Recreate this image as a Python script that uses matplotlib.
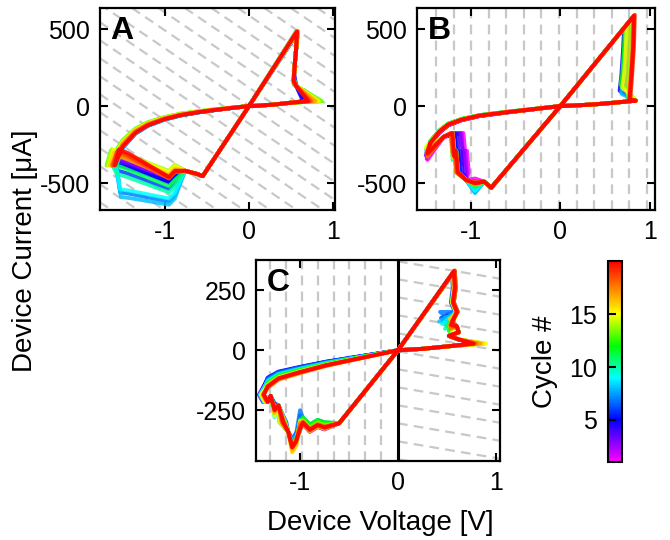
import numpy as np
import matplotlib
matplotlib.use('Agg')
import matplotlib.pyplot as plt
from matplotlib.colors import LinearSegmentedColormap, Normalize
from matplotlib.cm import ScalarMappable

plt.rcParams['font.family'] = ['Liberation Sans', 'DejaVu Sans']
plt.rcParams['font.size'] = 18
plt.rcParams['axes.unicode_minus'] = False
plt.rcParams['lines.scale_dashes'] = False

cycles = list(range(1, 21))

# ---- panel A, per-cycle features (V in volts, I in uA)
a_peak_V = [0.57, 0.56, 0.57, 0.58, 0.57, 0.56, 0.57, 0.58, 0.57, 0.56, 0.57, 0.58, 0.57, 0.56, 0.57, 0.58, 0.57, 0.56, 0.57, 0.57]
a_peak_I = [470, 475, 480, 478, 482, 485, 480, 476, 478, 482, 485, 488, 486, 484, 480, 482, 485, 480, 482, 484]
a_knee_I = [200, 180, 160, 230, 170, 150, 190, 140, 160, 170, 150, 180, 170, 160, 150, 170, 160, 150, 170, 160]
a_right_V = [0.70, 0.70, 0.68, 0.66, 0.64, 0.70, 0.72, 0.74, 0.76, 0.80, 0.84, 0.86, 0.86, 0.85, 0.82, 0.80, 0.78, 0.74, 0.72, 0.70]
a_low = [0.95, 0.95, 0.97, 0.98, 1.0, 1.02, 1.03, 1.02, 1.0, 0.95, 0.9, 0.85, 0.84, 0.86, 0.88, 0.9, 0.93, 0.96, 0.98, 1.0]
a_vmin = [-1.60, -1.62, -1.61, -1.63, -1.62, -1.60, -1.58, -1.57, -1.58, -1.62, -1.65, -1.68, -1.69, -1.68, -1.66, -1.65, -1.63, -1.62, -1.61, -1.59]
a_step = [-330, -340, -350, -360, -380, -420, -560, -590, -540, -440, -380, -300, -290, -280, -285, -300, -320, -300, -290, -280]
a_shelf = [-470, -480, -490, -500, -490, -540, -620, -640, -600, -560, -520, -450, -430, -420, -430, -445, -455, -470, -465, -460]
# shared low-current branch of A
a_branch_V = [-0.2, -0.4, -0.6, -0.8, -1.0, -1.2, -1.35, -1.5]
a_branch_I = [-12, -25, -40, -58, -85, -125, -175, -265]

# ---- panel B
b_peak_V = [0.80, 0.81, 0.79, 0.76, 0.71, 0.80, 0.82, 0.73, 0.81, 0.80, 0.82, 0.72, 0.81, 0.78, 0.74, 0.82, 0.81, 0.82, 0.83, 0.82]
b_peak_I = [572, 579, 565, 543, 508, 572, 586, 522, 579, 572, 586, 515, 579, 558, 530, 586, 579, 586, 593, 586]
b_foot_I = [60, 50, 70, 90, 100, 55, 45, 80, 60, 50, 45, 140, 60, 110, 120, 45, 50, 45, 40, 40]
b_low = [1.05, 1.04, 1.03, 1.02, 1.0, 1.0, 0.98, 0.97, 0.96, 0.95, 0.95, 0.96, 0.97, 0.98, 0.99, 1.0, 1.01, 1.02, 1.0, 1.0]
b_vmin = [-1.48, -1.49, -1.50, -1.49, -1.48, -1.47, -1.48, -1.49, -1.50, -1.49, -1.48, -1.47, -1.48, -1.49, -1.50, -1.49, -1.48, -1.48, -1.49, -1.48]
b_left_I = [-350, -340, -320, -300, -290, -300, -310, -300, -280, -290, -300, -310, -290, -280, -270, -300, -320, -330, -300, -310]
b_drop_V = [-1.08, -1.10, -1.12, -1.15, -1.18, -1.19, -1.20, -1.21, -1.20, -1.22, -1.21, -1.20, -1.22, -1.21, -1.20, -1.22, -1.21, -1.22, -1.21, -1.20]
b_mid_I = [-300, -380, -260, -340, -300, -360, -290, -330, -310, -350, -280, -320, -300, -340, -290, -330, -310, -300, -320, -330]
b_valley = [-470, -490, -500, -520, -540, -550, -560, -565, -550, -530, -520, -510, -505, -500, -505, -510, -500, -495, -505, -500]
b_branch_V = [-0.3, -0.6, -0.9, -1.1, -1.25, -1.35, -1.45]
b_branch_I = [-20, -40, -62, -88, -120, -167, -240]

# ---- panel C
c_peak_V = [0.56, 0.57, 0.58, 0.57, 0.56, 0.55, 0.56, 0.57, 0.58, 0.57, 0.56, 0.57, 0.58, 0.57, 0.56, 0.57, 0.58, 0.57, 0.58, 0.57]
c_peak_I = [320, 325, 330, 326, 322, 318, 322, 326, 330, 326, 322, 326, 330, 326, 322, 326, 330, 326, 333, 330]
c_jag_V = [0.52, 0.50, 0.48, 0.47, 0.46, 0.44, 0.43, 0.42, 0.45, 0.48, 0.50, 0.52, 0.53, 0.54, 0.55, 0.53, 0.52, 0.54, 0.55, 0.54]
c_jag_I = [130, 150, 110, 140, 120, 135, 160, 120, 110, 90, 100, 80, 95, 110, 85, 130, 100, 90, 120, 105]
c_right_V = [0.80, 0.82, 0.83, 0.81, 0.80, 0.82, 0.84, 0.85, 0.86, 0.84, 0.86, 0.87, 0.88, 0.89, 0.90, 0.86, 0.84, 0.80, 0.78, 0.77]
c_low = [0.85, 0.82, 0.8, 0.78, 0.76, 0.78, 0.8, 0.84, 0.86, 0.88, 0.9, 0.92, 0.94, 0.96, 0.98, 1.02, 1.05, 1.03, 1.0, 1.0]
c_vmin = [-1.40, -1.41, -1.42, -1.41, -1.40, -1.39, -1.38, -1.40, -1.41, -1.39, -1.38, -1.37, -1.38, -1.39, -1.40, -1.38, -1.37, -1.38, -1.37, -1.37]
c_knee = [-240, -260, -230, -250, -270, -220, -245, -260, -280, -235, -250, -265, -240, -255, -275, -245, -260, -250, -240, -250]
c_dip_V = [-1.19, -1.15, -1.20, -1.16, -1.18, -1.14, -1.21, -1.17, -1.15, -1.19, -1.16, -1.20, -1.18, -1.15, -1.21, -1.17, -1.19, -1.16, -1.18, -1.17]
c_bottom = [-380, -390, -395, -385, -380, -370, -375, -380, -400, -410, -415, -405, -395, -400, -420, -425, -410, -400, -405, -404]
c_rise = [-300, -330, -270, -310, -290, -320, -250, -340, -300, -310, -290, -325, -305, -315, -295, -330, -300, -310, -320, -330]
c_shelf = [-315, -320, -318, -312, -305, -295, -290, -300, -305, -300, -295, -290, -300, -305, -310, -318, -315, -312, -308, -312]
c_branch_V = [-0.39, -0.73, -1.01, -1.22, -1.33]
c_branch_I = [-33, -62, -92, -117, -150]

cmap = LinearSegmentedColormap.from_list(
    'cyc', [(0.0, '#ff00ff'), (0.21, '#0000ff'), (0.42, '#00ffff'),
            (0.58, '#00ff00'), (0.74, '#ffff00'), (1.0, '#ff0000')])
norm = Normalize(1, 20)


def loop_a(k):
    V = [0, a_peak_V[k], 0.56, 0.54, 0.53, 0.56, a_right_V[k], 0.5, 0.3, 0.1, 0]
    I = [0, a_peak_I[k], 380, 250, a_knee_I[k], 130, 32, 22, 10, 2, 0]
    V += a_branch_V + [a_vmin[k], a_vmin[k] + 0.05, a_vmin[k] + 0.16, -0.95, -0.88, -0.76, -0.62, -0.55, 0]
    mid = a_step[k] + (a_shelf[k] - a_step[k]) * 0.15
    I += [i * a_low[k] for i in a_branch_I] + [-385, a_step[k], mid, a_shelf[k],
                                              a_shelf[k] + 40, -420, -440, -455, 0]
    return V, I


def loop_b(k):
    pv = b_peak_V[k]
    V = [0, pv, pv - 0.01, pv - 0.03, pv - 0.05, 0.84, 0.6, 0.4, 0.2, 0]
    I = [0, b_peak_I[k], 380, 200, b_foot_I[k], 35, 22, 12, 5, 0]
    d = b_drop_V[k]
    V += b_branch_V + [b_vmin[k], -1.3, d, d + 0.02, d + 0.04, d + 0.06, -1.05, -0.95, -0.85, -0.77, 0]
    I += [i * b_low[k] for i in b_branch_I] + [b_left_I[k], -200, -175, b_mid_I[k], -290, -430,
                                              -480, b_valley[k], -490, -530, 0]
    return V, I


def loop_c(k):
    pv = c_peak_V[k]
    V = [0, pv, pv + 0.01, pv - 0.01, pv + 0.03, c_jag_V[k], 0.6, 0.62, 0.52, 0.62,
         c_right_V[k], 0.5, 0.25, 0]
    I = [0, c_peak_I[k], 260, 200, 160, c_jag_I[k], 100, 75, 60, 45, 28, 16, 6, 0]
    vm = c_vmin[k]
    sh = c_shelf[k]
    V += c_branch_V + [vm, vm + 0.04, -1.3, -1.26, -1.22, c_dip_V[k], -1.12, -1.08, -1.04,
                       -1.0, -0.97, -0.9, -0.82, -0.75, -0.6, 0]
    I += [i * c_low[k] for i in c_branch_I] + [-185, -215, -190, c_knee[k], -230, -300, -340,
                                              c_bottom[k], c_bottom[k] + 25, c_rise[k], sh + 10,
                                              sh - 20, sh, sh - 10, -304, 0]
    return V, I


W, H = 6.7, 5.4
fig = plt.figure(figsize=(W, H), dpi=100)

grey = '#c8c8c8'
dash = dict(color=grey, lw=1.6, dashes=(7, 4.5), zorder=0)


def diag_lines(ax, slope_px, step_px, x0=0.0):
    # dashed slanted background lines, laid out in screen pixels
    pos = ax.get_position()
    wpx, hpx = pos.width * W * 100, pos.height * H * 100
    m = slope_px * wpx / hpx
    step = step_px / hpx
    for c in np.arange(-0.05, 1.0 - m * 1.0 + step, step):
        ax.plot([x0, 1], [c + m * x0, c + m], transform=ax.transAxes, **dash)


def style(ax, letter, xlim, ylim, yticks):
    ax.set_xlim(xlim)
    ax.set_ylim(ylim)
    ax.set_xticks([-1, 0, 1])
    ax.set_yticks(yticks)
    ax.tick_params(direction='in', top=True, right=True, length=6, width=1.5, pad=7)
    for s in ax.spines.values():
        s.set_linewidth(1.6)
    ax.text(0.045, 0.96, letter, transform=ax.transAxes, fontsize=23,
            fontweight='bold', ha='left', va='top')


def draw(ax, fn):
    for k, c in enumerate(cycles):
        V, I = fn(k)
        ax.plot(V, I, color=cmap(norm(c)), lw=2.8, alpha=0.85, solid_joinstyle='round')


axA = fig.add_axes([0.149, 0.611, 0.351, 0.374])
diag_lines(axA, -0.68, 18)
draw(axA, loop_a)
style(axA, 'A', (-1.77, 1.02), (-675, 636), [-500, 0, 500])

axB = fig.add_axes([0.622, 0.611, 0.355, 0.374])
for v in np.arange(-1.38, 1.0, 0.195):
    axB.axvline(v, **dash)
draw(axB, loop_b)
style(axB, 'B', (-1.6, 1.05), (-675, 636), [-500, 0, 500])

axC = fig.add_axes([0.382, 0.146, 0.364, 0.372])
for v in np.arange(-1.31, -0.1, 0.163):
    axC.axvline(v, **dash)
xl = (-1.45, 1.04)
diag_lines(axC, -0.17, 18, x0=(0 - xl[0]) / (xl[1] - xl[0]))
axC.axvline(0, color='k', lw=2.2, zorder=1)
draw(axC, loop_c)
style(axC, 'C', xl, (-462, 375), [-250, 0, 250])

cax = fig.add_axes([0.907, 0.144, 0.021, 0.372])
cb = fig.colorbar(ScalarMappable(norm=norm, cmap=cmap), cax=cax, ticks=[5, 10, 15])
cb.outline.set_linewidth(1.5)
cax.yaxis.set_ticks_position('left')
cax.yaxis.set_label_position('left')
cax.tick_params(direction='in', length=6, width=1.5, pad=8)
cb.set_label('Cycle #', fontsize=20, labelpad=8)

fig.text(0.038, 0.535, 'Device Current [\u03bcA]', rotation=90, ha='center', va='center', fontsize=20)
fig.text(0.567, 0.032, 'Device Voltage [V]', ha='center', va='center', fontsize=20)

fig.savefig('out.png', dpi=100)
